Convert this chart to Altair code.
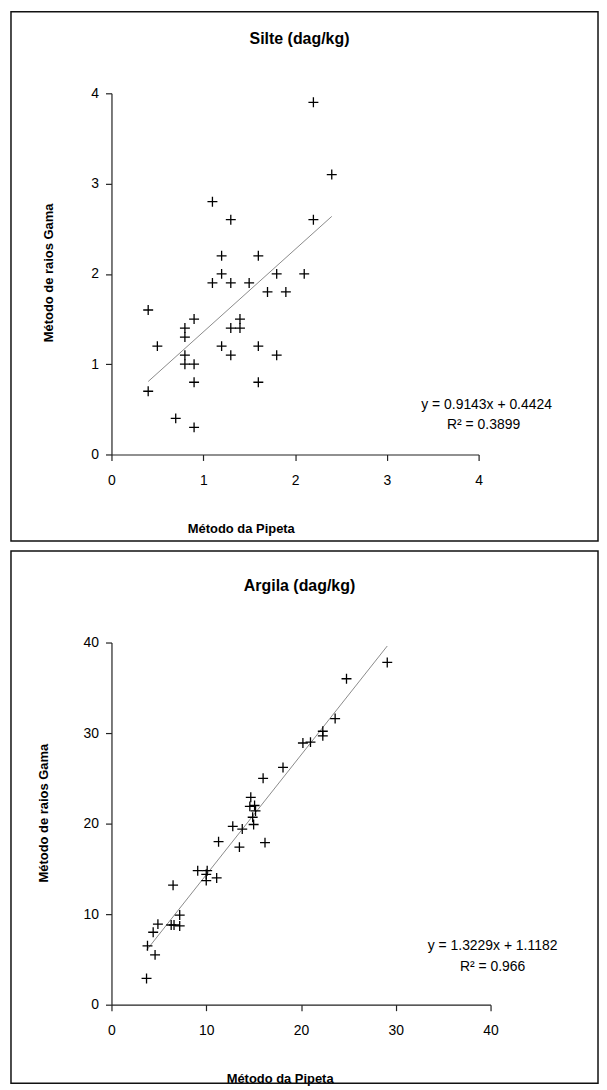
import altair as alt
import pandas as pd

# ---- data ----
silte_pipeta = [0.4, 0.4, 0.5, 0.7, 0.8, 0.8, 0.8, 0.8, 0.9, 0.9, 0.9, 0.9,
                1.1, 1.1, 1.2, 1.2, 1.2, 1.3, 1.3, 1.3, 1.3, 1.4, 1.4, 1.5,
                1.6, 1.6, 1.6, 1.7, 1.8, 1.8, 1.9, 2.1, 2.2, 2.2, 2.4]
silte_gama = [1.6, 0.7, 1.2, 0.4, 1.4, 1.3, 1.1, 1.0, 1.5, 1.0, 0.8, 0.3,
              2.8, 1.9, 2.2, 2.0, 1.2, 2.6, 1.9, 1.4, 1.1, 1.5, 1.4, 1.9,
              2.2, 1.2, 0.8, 1.8, 2.0, 1.1, 1.8, 2.0, 2.6, 3.9, 3.1]
silte_fit = [0.9143, 0.4424]
silte_text = ["y = 0.9143x + 0.4424", "R\u00b2 = 0.3899"]

argila_pipeta = [3.7, 3.8, 4.4, 4.6, 4.9, 6.3, 6.6, 6.5, 7.2, 7.2, 9.1, 10.1,
                 10.0, 10.0, 11.1, 11.3, 12.8, 13.8, 13.5, 15.0, 14.9, 15.2,
                 15.1, 14.6, 14.7, 16.2, 16.0, 18.1, 20.2, 21.0, 22.3, 22.3,
                 23.6, 24.8, 29.1]
argila_gama = [2.9, 6.5, 8.0, 5.5, 8.9, 8.8, 8.8, 13.2, 9.9, 8.7, 14.8, 14.8,
               14.4, 13.7, 14.0, 18.0, 19.7, 19.4, 17.4, 19.9, 20.7, 21.4,
               22.0, 21.9, 22.9, 17.9, 25.0, 26.2, 28.9, 29.0, 30.2, 29.7,
               31.6, 36.0, 37.8]
argila_fit = [1.3229, 1.1182]
argila_text = ["y = 1.3229x + 1.1182", "R\u00b2 = 0.966"]

silte_ticks = [0, 1, 2, 3, 4]
argila_ticks = [0, 10, 20, 30, 40]

FONT = "Liberation Sans"
CROSS = "M-1,0H1M0,-1V1"


def panel(px, gy, fit, eq, title, ticks, w, h, box, title_pos, eq_pos,
          xtitle_pos, ytitle_pos):
    df = pd.DataFrame({"x": px, "y": gy})
    xs = [min(px), max(px)]
    line_df = pd.DataFrame({"x": xs, "y": [fit[0] * v + fit[1] for v in xs]})
    one = pd.DataFrame({"k": [0]})

    xscale = alt.Scale(domain=[ticks[0], ticks[-1]], nice=False)
    yscale = alt.Scale(domain=[ticks[0], ticks[-1]], nice=False)

    common = dict(labelFont=FONT, labelFontSize=14, labelColor="black",
                  tickColor="#222", domainColor="#222", tickSize=6,
                  domainWidth=1.2, tickWidth=1.2, grid=False,
                  labelFlush=False, labelOverlap=False, format="~g",
                  titleFont=FONT, titleFontSize=13, titleFontWeight="bold",
                  titleColor="black", values=ticks)
    xaxis = alt.Axis(title="Método da Pipeta", labelPadding=13,
                     titleX=xtitle_pos[0], titleY=xtitle_pos[1],
                     titleAlign="center", titleBaseline="middle",
                     titleAngle=0, **common)
    yaxis = alt.Axis(title="Método de raios Gama", labelPadding=7,
                     titleX=ytitle_pos[0], titleY=ytitle_pos[1],
                     titleAlign="center", titleBaseline="middle",
                     titleAngle=270, **common)

    pts = alt.Chart(df).mark_point(
        shape=CROSS, size=100, filled=False, color="black",
        strokeWidth=1.3, opacity=1
    ).encode(
        x=alt.X("x:Q", scale=xscale, axis=xaxis),
        y=alt.Y("y:Q", scale=yscale, axis=yaxis),
    )
    line = alt.Chart(line_df).mark_line(color="#8a8a8a", strokeWidth=1).encode(
        x=alt.X("x:Q", scale=xscale), y=alt.Y("y:Q", scale=yscale)
    )
    frame = alt.Chart(one).mark_rect(
        fillOpacity=0, stroke="#111", strokeWidth=1.5
    ).encode(
        x=alt.value(box[0]), x2=alt.value(box[1]),
        y=alt.value(box[2]), y2=alt.value(box[3]),
    )
    ttl = alt.Chart(one).mark_text(
        text=title, font=FONT, fontSize=16, fontWeight="bold", color="black",
        align="center", baseline="middle"
    ).encode(x=alt.value(title_pos[0]), y=alt.value(title_pos[1]))
    eq1 = alt.Chart(one).mark_text(
        text=eq[0], font=FONT, fontSize=14, color="black",
        align="center", baseline="middle"
    ).encode(x=alt.value(eq_pos[0]), y=alt.value(eq_pos[1]))
    eq2 = alt.Chart(one).mark_text(
        text=eq[1], font=FONT, fontSize=14, color="black",
        align="center", baseline="middle"
    ).encode(x=alt.value(eq_pos[2]), y=alt.value(eq_pos[3]))

    return alt.layer(frame, line, pts, ttl, eq1, eq2).properties(
        width=w, height=h
    )


top = panel(silte_pipeta, silte_gama, silte_fit, silte_text,
            "Silte (dag/kg)", silte_ticks, 369, 363,
            box=[-101, 489, -82, 450],
            title_pos=[189, -55],
            eq_pos=[377, 313, 374, 333],
            xtitle_pos=[130, 74], ytitle_pos=[-63, 180])

bottom = panel(argila_pipeta, argila_gama, argila_fit, argila_text,
               "Argila (dag/kg)", argila_ticks, 381, 364,
               box=[-101, 489, -92, 443],
               title_pos=[189, -57],
               eq_pos=[383, 305, 383, 326],
               xtitle_pos=[169, 74], ytitle_pos=[-68, 171])

chart = alt.vconcat(top, bottom, spacing=8).properties(
    padding={"left": 2, "top": 0, "right": 0, "bottom": 0}
).configure_view(stroke=None)

chart.save("out.html", embed_options={"renderer": "svg", "actions": False})
